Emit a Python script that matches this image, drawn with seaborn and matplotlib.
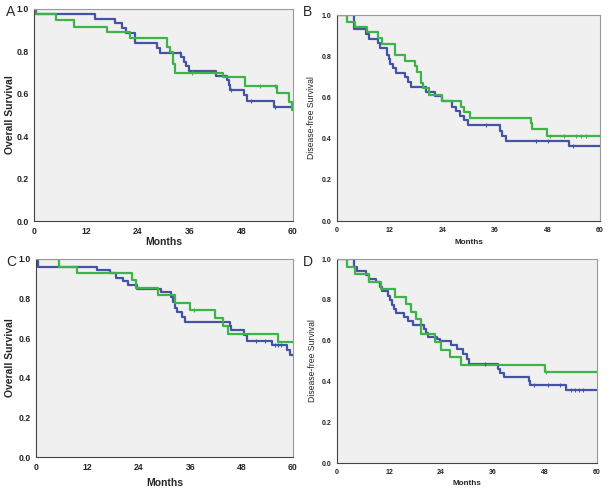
import numpy as np
import pandas as pd
import matplotlib
matplotlib.use("Agg")
import matplotlib.pyplot as plt
import seaborn as sns

sns.set_style("white")
plt.rcParams["font.family"] = ["Liberation Sans", "DejaVu Sans"]

BLUE = "#4453A3"
GREEN = "#3DB34A"
BG = "#F0F0F0"

# ── Kaplan-Meier step data (event time, survival after event)
# Panel A - overall survival
A_BLUE_T = [0.4, 14.1, 18.8, 20.5, 21.3, 23.4, 28.6, 29.2, 34.1, 34.7, 35.1, 35.9,
            42.1, 44.8, 45.1, 45.4, 48.7, 49.4, 55.5]
A_BLUE_S = [0.975, 0.953, 0.932, 0.909, 0.887, 0.84, 0.815, 0.793, 0.772, 0.749, 0.729,
            0.707, 0.686, 0.663, 0.64, 0.616, 0.592, 0.565, 0.540]
A_BLUE_C = [33.8, 45.6, 50.2, 55.8]
A_GREEN_T = [0.3, 5.2, 9.3, 17.0, 22.2, 30.8, 31.6, 32.2, 32.6, 43.7, 48.9, 56.4, 59.0, 59.7]
A_GREEN_S = [0.975, 0.946, 0.917, 0.89, 0.864, 0.82, 0.796, 0.741, 0.699, 0.678, 0.639,
             0.605, 0.561, 0.525]
A_GREEN_C = [36.5, 52.3, 55.8]

# Panel B - disease-free survival
B_BLUE_T = [3.8, 6.7, 7.3, 9.3, 9.9, 11.4, 11.8, 12.2, 12.7, 13.5, 15.6, 16.3, 16.9,
            20.4, 22.3, 23.9, 26.2, 27.2, 28.1, 28.9, 29.8, 37.3, 37.7, 38.6, 52.9]
B_BLUE_S = [0.931, 0.908, 0.882, 0.863, 0.838, 0.806, 0.785, 0.762, 0.741, 0.72, 0.70,
            0.676, 0.649, 0.628, 0.607, 0.584, 0.555, 0.535, 0.51, 0.49, 0.466, 0.438,
            0.414, 0.39, 0.364]
B_BLUE_C = [33.9, 45.3, 48.2, 53.8]
B_GREEN_T = [2.3, 4.2, 6.9, 9.4, 10.2, 13.2, 15.5, 17.7, 18.2, 19.2, 19.7, 21.0, 23.9,
             28.4, 29.0, 30.3, 44.3, 44.5, 48.0]
B_GREEN_S = [0.968, 0.94, 0.916, 0.887, 0.859, 0.806, 0.778, 0.75, 0.725, 0.671, 0.644,
             0.612, 0.584, 0.555, 0.527, 0.50, 0.474, 0.447, 0.414]
B_GREEN_C = [48.5, 51.8, 54.6, 55.7, 56.9]

# Panel C - overall survival
C_BLUE_T = [0.5, 14.2, 17.3, 18.7, 20.4, 21.4, 23.5, 29.1, 31.6, 32.1, 32.5, 32.9, 34.1,
            34.9, 45.2, 45.6, 48.5, 49.3, 55.1, 58.6, 59.4]
C_BLUE_S = [0.961, 0.944, 0.928, 0.906, 0.889, 0.869, 0.85, 0.835, 0.81, 0.784, 0.751,
            0.731, 0.709, 0.683, 0.662, 0.642, 0.616, 0.586, 0.566, 0.54, 0.515]
C_BLUE_C = [51.3, 53.5, 55.9, 56.6, 57.3]
C_GREEN_T = [5.4, 9.5, 22.4, 23.4, 28.5, 32.4, 36.0, 41.8, 43.6, 44.8, 56.5]
C_GREEN_S = [0.961, 0.928, 0.894, 0.855, 0.818, 0.776, 0.742, 0.704, 0.663, 0.621, 0.582]
C_GREEN_C = [36.8]

# Panel D - disease-free survival
D_BLUE_T = [3.9, 4.5, 6.8, 7.4, 9.1, 9.9, 10.4, 11.8, 12.2, 12.7, 13.2, 13.7, 15.5, 16.4,
            17.6, 20.1, 20.5, 21.0, 23.0, 23.7, 26.4, 27.8, 29.1, 29.9, 30.5, 37.2, 37.6,
            38.6, 44.2, 44.6, 52.8]
D_BLUE_S = [0.962, 0.943, 0.92, 0.90, 0.885, 0.865, 0.845, 0.82, 0.80, 0.775, 0.755,
            0.735, 0.715, 0.695, 0.675, 0.655, 0.635, 0.62, 0.61, 0.60, 0.58, 0.56, 0.535,
            0.51, 0.485, 0.46, 0.44, 0.42, 0.40, 0.38, 0.36]
D_BLUE_C = [34.1, 45.4, 48.7, 51.4, 54.1, 54.9, 55.8, 56.8]
D_GREEN_T = [2.2, 4.2, 7.4, 10.1, 13.4, 16.0, 17.1, 18.2, 19.4, 22.5, 24.0, 26.1, 28.6, 47.9]
D_GREEN_S = [0.963, 0.926, 0.889, 0.852, 0.815, 0.778, 0.741, 0.704, 0.63, 0.593, 0.556,
             0.519, 0.481, 0.444]
D_GREEN_C = [48.2]

X_TICKS = [0, 12, 24, 36, 48, 60]
Y_TICKS = [0.0, 0.2, 0.4, 0.6, 0.8, 1.0]


def km_frame(times, surv, group):
    t = [0.0] + list(times) + [60.0]
    s = [1.0] + list(surv) + [surv[-1]]
    return pd.DataFrame({"month": t, "surv": s, "group": group})


def surv_at(t, times, surv):
    i = np.searchsorted(times, t, side="right")
    return 1.0 if i == 0 else surv[i - 1]


def km_panel(ax, blue, green, letter, ylabel, big, label_xy, ylab_x, xlab_y):
    df = pd.concat([km_frame(blue[0], blue[1], "blue"),
                    km_frame(green[0], green[1], "green")])
    sns.lineplot(data=df, x="month", y="surv", hue="group",
                 palette={"blue": BLUE, "green": GREEN}, drawstyle="steps-post",
                 estimator=None, sort=False, legend=False, linewidth=1.6, ax=ax)
    for (t, s, c), col in ((blue, BLUE), (green, GREEN)):
        ys = [surv_at(x, t, s) for x in c]
        ax.plot(c, ys, linestyle="none", marker="|", ms=3.5, mew=0.8, color=col)

    ax.set_facecolor(BG)
    ax.set_xlim(0, 60)
    ax.set_ylim(0, 1.0)
    ax.set_xticks(X_TICKS)
    ax.set_yticks(Y_TICKS)
    ax.set_yticklabels([f"{v:.1f}" for v in Y_TICKS])
    fs = 6.2 if big else 5.0
    ax.tick_params(length=2.5, width=0.7, pad=1.5, labelsize=fs, colors="#222222")
    for lab in ax.get_xticklabels() + ax.get_yticklabels():
        lab.set_fontweight("bold")
    for side in ("left", "bottom"):
        ax.spines[side].set_color("#444444")
    for side in ("top", "right"):
        ax.spines[side].set_color("#9A9A9A")
    for sp in ax.spines.values():
        sp.set_linewidth(0.8)

    ax.set_ylabel(ylabel, fontsize=7.5 if big else 6.2,
                  fontweight="bold" if big else "normal")
    ax.set_xlabel("Months", fontsize=7.5 if big else 5.9, fontweight="bold")
    ax.yaxis.set_label_coords(ylab_x, 0.5)
    ax.xaxis.set_label_coords(0.5, xlab_y)
    ax.figure.text(label_xy[0] / 611, 1 - label_xy[1] / 494, letter,
                   fontsize=10, ha="center", va="center")


fig = plt.figure(figsize=(6.11, 4.94), dpi=100)
axA = fig.add_axes([34 / 611, 1 - 221 / 494, 259 / 611, 212 / 494])
axB = fig.add_axes([337 / 611, 1 - 221 / 494, 263 / 611, 206 / 494])
axC = fig.add_axes([36 / 611, 1 - 457 / 494, 257 / 611, 198 / 494])
axD = fig.add_axes([337 / 611, 1 - 463 / 494, 260 / 611, 204 / 494])

km_panel(axA, (A_BLUE_T, A_BLUE_S, A_BLUE_C), (A_GREEN_T, A_GREEN_S, A_GREEN_C),
         "A", "Overall Survival", True, (11, 12), -0.073, -0.075)
km_panel(axB, (B_BLUE_T, B_BLUE_S, B_BLUE_C), (B_GREEN_T, B_GREEN_S, B_GREEN_C),
         "B", "Disease-free Survival", False, (308, 12), -0.080, -0.087)
km_panel(axC, (C_BLUE_T, C_BLUE_S, C_BLUE_C), (C_GREEN_T, C_GREEN_S, C_GREEN_C),
         "C", "Overall Survival", True, (11, 262), -0.082, -0.106)
km_panel(axD, (D_BLUE_T, D_BLUE_S, D_BLUE_C), (D_GREEN_T, D_GREEN_S, D_GREEN_C),
         "D", "Disease-free Survival", False, (308, 262), -0.077, -0.083)

fig.savefig("out.png", dpi=100)
